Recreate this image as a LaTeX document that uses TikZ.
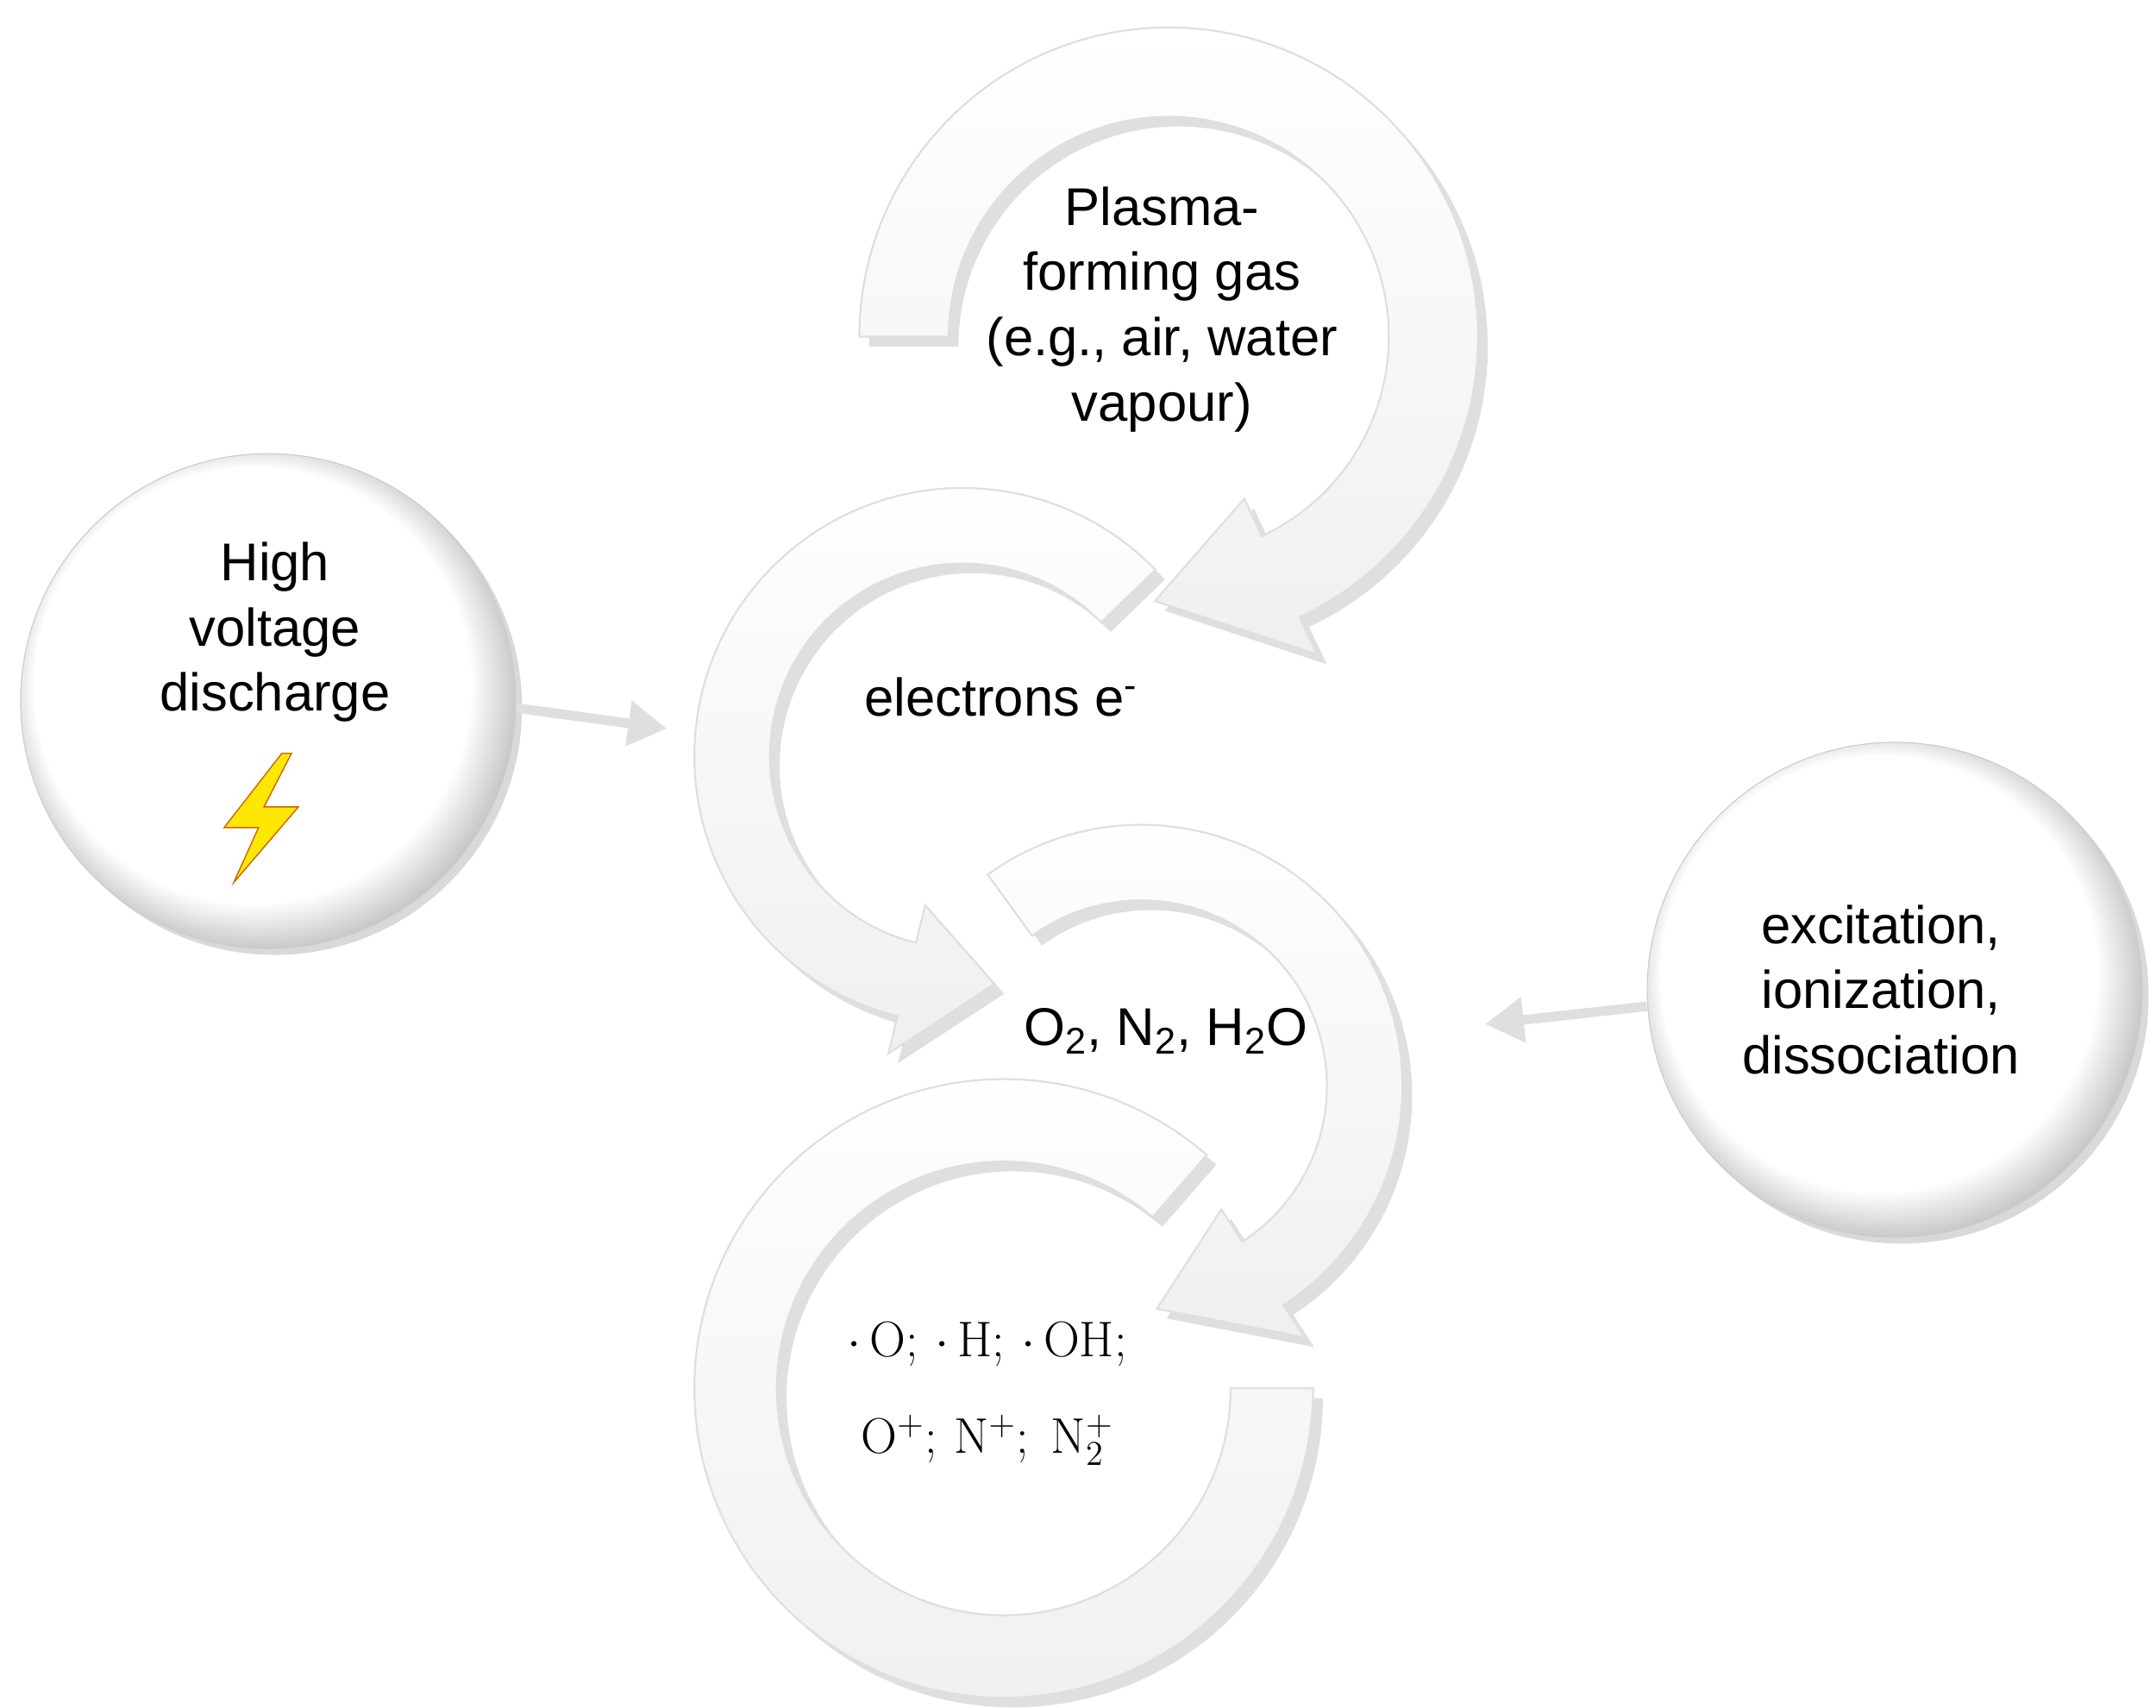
\documentclass[tikz,border=0pt]{standalone}
\usepackage[no-math]{fontspec}
\setmainfont{Liberation Sans}
\usetikzlibrary{calc,shadows,arrows.meta}
\pgfdeclareradialshading{ball}{\pgfpoint{-6bp}{6bp}}{color(0bp)=(white); color(22bp)=(white); color(27bp)=(gray!55); color(30bp)=(gray!80)}
\newcommand{\ringarrow}[8]{% cx cy R r a b c w
 \coordinate (C) at (#1,#2);
 \path[ring] ($(C)+(#5:#3)$) arc[start angle=#5,end angle=#6,radius=#3]
  -- ($(C)+(#6:#3+#8)$) -- ($(C)+(#7:{(#3+#4)/2})$) -- ($(C)+(#6:#4-#8)$)
  -- ($(C)+(#6:#4)$) arc[start angle=#6,end angle=#5,radius=#4] -- cycle;}
\begin{document}
\begin{tikzpicture}[x=0.02cm,y=0.02cm,
 ring/.style={top color=white,bottom color=gray!12,draw=gray!25,line width=0.8pt,drop shadow={opacity=0.25,shadow xshift=4pt,shadow yshift=-4pt}},
 ball/.style={circle,minimum size=360*0.02cm,shading=ball,draw=gray!40,drop shadow={opacity=0.3}},
 txt/.style={align=center,font=\fontsize{22}{27}\selectfont},
 con/.style={line width=4pt,-{Triangle[length=16pt,width=18pt]},color=gray!25}]
\useasboundingbox (0,0) rectangle (1568,1242);
% rings
\coordinate (D) at (730,232);
\path[ring] ($(D)+(49:225)$) arc[start angle=49,end angle=360,radius=225] -- ($(D)+(0:165)$) arc[start angle=360,end angle=49,radius=165] -- cycle;
\ringarrow{830}{452}{190}{135}{126}{-57}{-86}{28}
\ringarrow{700}{692}{195}{140}{44}{256}{278}{28}
\ringarrow{850}{997}{225}{160}{180}{-65}{-93}{30}
% balls
\node[ball] (hv) at (195,732) {};
\node[ball] (ex) at (1378,522) {};
\node[txt] at (200,782) {High\\voltage\\discharge};
\node[txt] at (1368,522) {excitation,\\ionization,\\dissociation};
\filldraw[fill=yellow!90!orange,draw=orange!80!black,line width=0.5pt]
 (205,694) -- (163,640) -- (188,640) -- (170,600) -- (217,655) -- (192,655) -- (212,694) -- cycle;
% connectors
\coordinate (a1) at (485,712);
\coordinate (a2) at (1080,497);
\draw[con] ([yshift=-5*0.02cm]hv.east) -- (a1);
\draw[con] ([yshift=-12*0.02cm]ex.west) -- (a2);
% texts
\node[txt] at (845,1017) {Plasma-\\forming gas\\(e.g., air, water\\vapour)};
\node[txt] at (728,735) {electrons e\textsuperscript{-}};
\node[txt] at (848,492) {O\textsubscript{2}, N\textsubscript{2}, H\textsubscript{2}O};
\node[align=center,font=\fontsize{22}{40}\selectfont] at (718,228) {$\cdot\,\mathrm{O};\,\cdot\,\mathrm{H};\,\cdot\,\mathrm{OH};$\\$\mathrm{O}^{+};\,\mathrm{N}^{+};\;\mathrm{N}_2^{+}$};
\end{tikzpicture}
\end{document}
